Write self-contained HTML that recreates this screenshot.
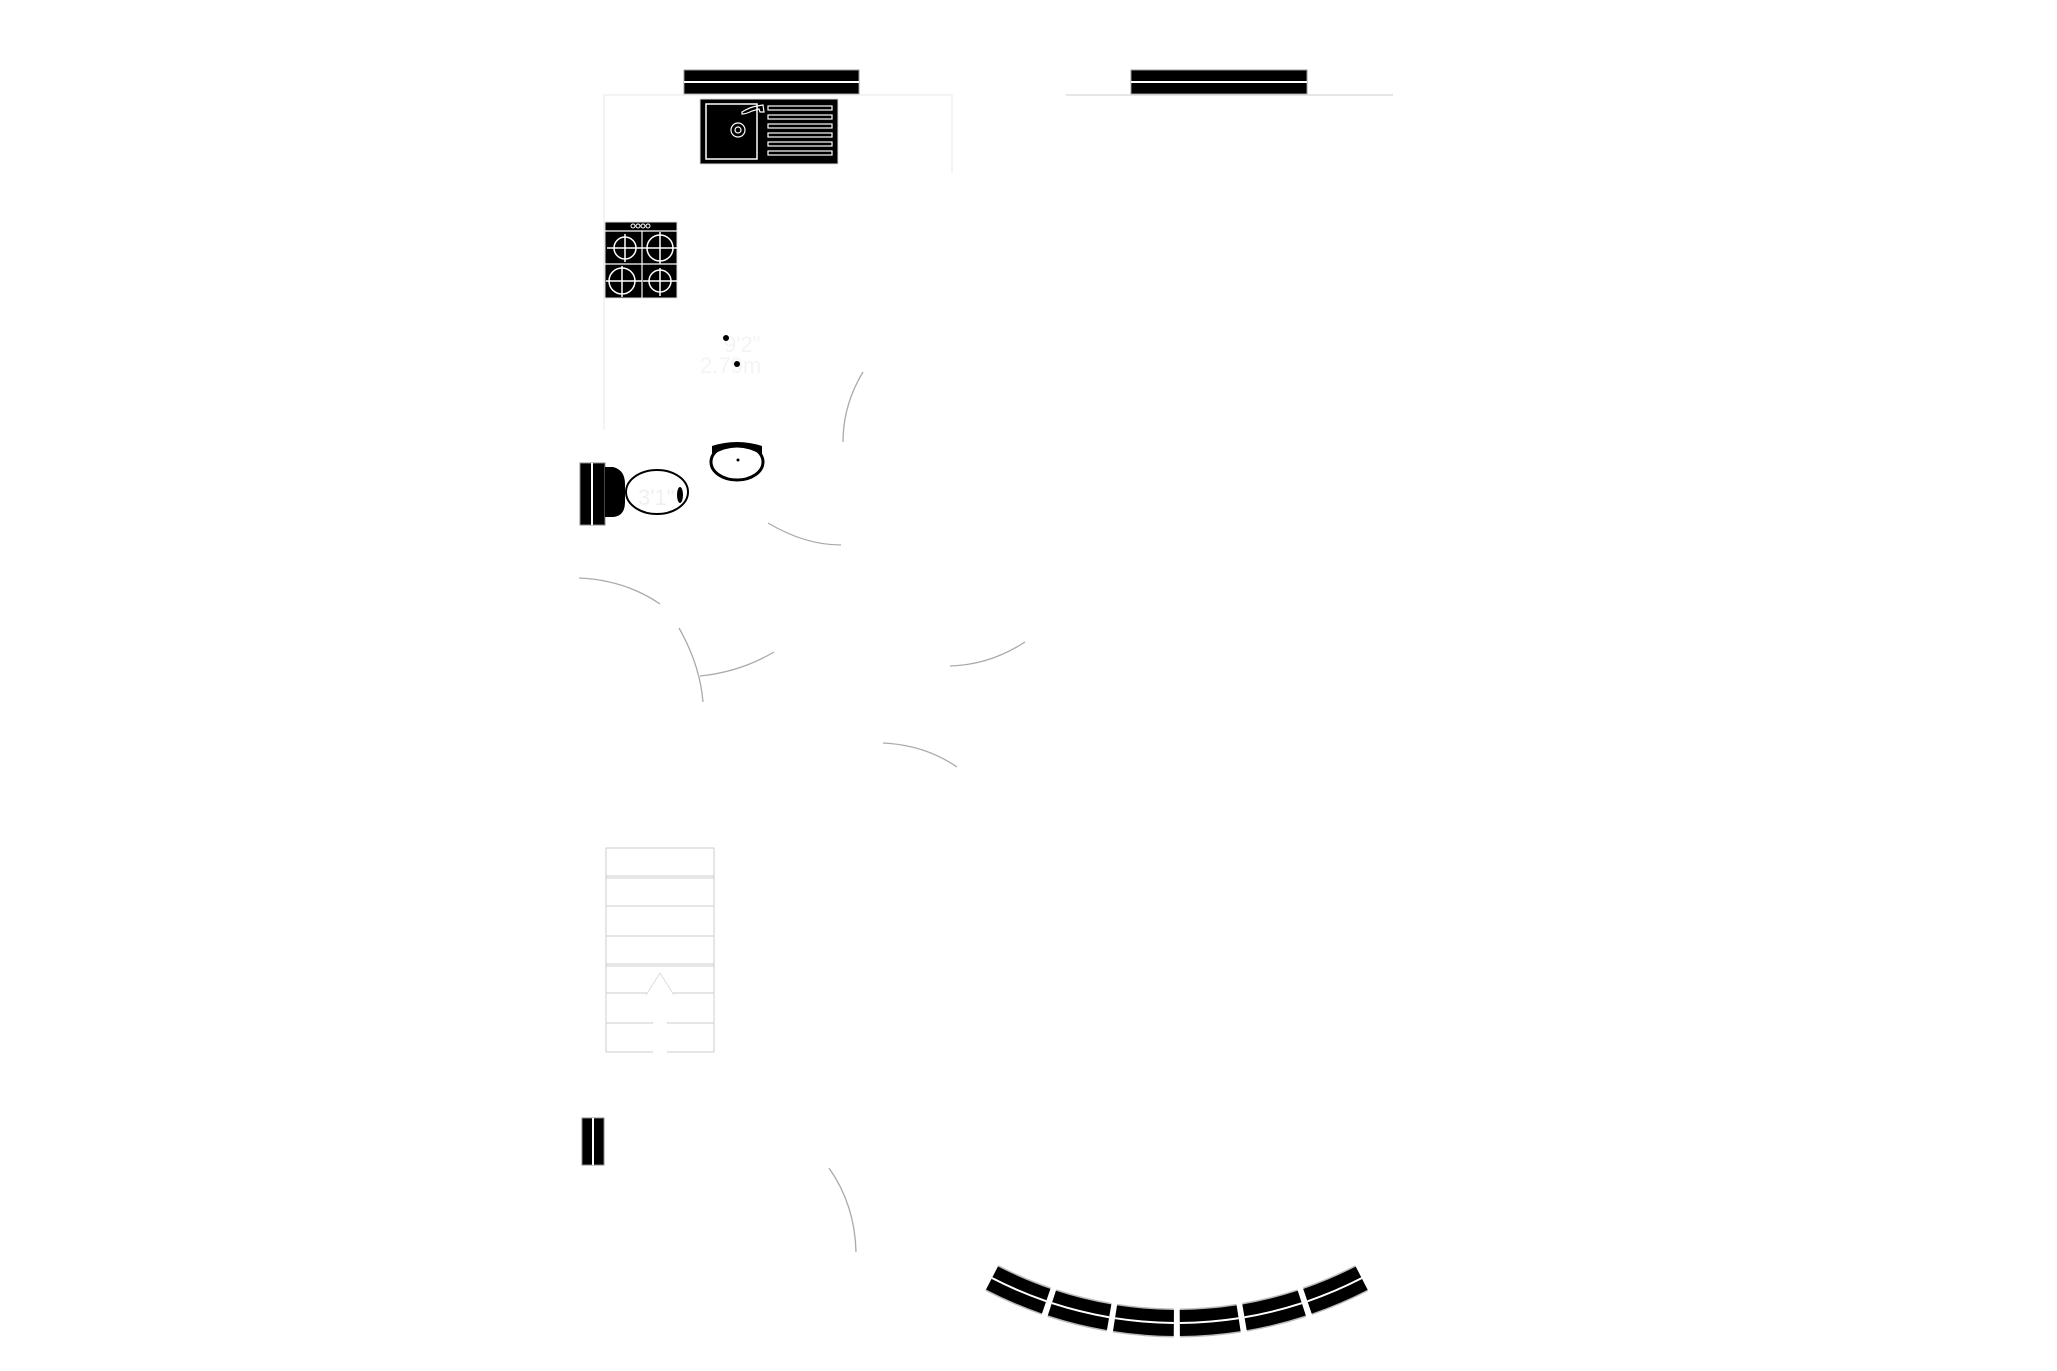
<!DOCTYPE html>
<html><head><meta charset="utf-8"><style>
html,body{margin:0;padding:0;background:#fff;}
svg{display:block;}
</style></head><body>
<svg width="2057" height="1371" viewBox="0 0 2057 1371" xmlns="http://www.w3.org/2000/svg">
<rect width="2057" height="1371" fill="#fff"/>
<!-- top wall bars -->
<rect x="684" y="70" width="175" height="24" fill="#000" stroke="#999" stroke-width="1"/>
<line x1="684" y1="82" x2="859" y2="82" stroke="#fff" stroke-width="2"/>
<rect x="1131" y="70" width="176" height="24" fill="#000" stroke="#999" stroke-width="1"/>
<line x1="1131" y1="82" x2="1307" y2="82" stroke="#fff" stroke-width="2"/>
<line x1="1066" y1="95" x2="1393" y2="95" stroke="#ddd" stroke-width="1.5"/>
<!-- kitchen outline -->
<polyline points="604,430 604,95 952,95 952,173" fill="none" stroke="#f0f0f0" stroke-width="1.5"/>
<!-- sink -->
<rect x="700" y="99" width="138" height="65" fill="#000" stroke="#ddd" stroke-width="1"/>
<rect x="706" y="104" width="51" height="55" fill="none" stroke="#fff" stroke-width="1.5"/>
<g fill="none" stroke="#fff" stroke-width="1.2">
<rect x="768" y="106" width="64" height="4"/>
<rect x="768" y="115" width="64" height="4"/>
<rect x="768" y="124" width="64" height="4"/>
<rect x="768" y="133" width="64" height="4"/>
<rect x="768" y="142" width="64" height="4"/>
<rect x="768" y="151" width="64" height="4"/>
<circle cx="738" cy="130" r="7"/><circle cx="738" cy="130" r="3"/>
<path d="M742 112 Q750 107 757 106 L763 105 L764 112 L760 112 L759 109 L752 111 Q746 114 742 114 Z"/>
</g>
<!-- hob -->
<rect x="605" y="222" width="72" height="76" fill="#000" stroke="#ddd" stroke-width="1"/>
<line x1="605" y1="231" x2="677" y2="231" stroke="#fff" stroke-width="1.2"/>
<line x1="642" y1="231" x2="642" y2="298" stroke="#fff" stroke-width="1.2"/>
<line x1="605" y1="264" x2="677" y2="264" stroke="#fff" stroke-width="1.2"/>
<g fill="none" stroke="#fff" stroke-width="1">
<circle cx="633" cy="226" r="2"/><circle cx="638" cy="226" r="2"/><circle cx="643" cy="226" r="2"/><circle cx="648" cy="226" r="2"/>
</g>
<g fill="none" stroke="#fff" stroke-width="1.5">
<circle cx="625" cy="248" r="11"/><circle cx="660" cy="248" r="13"/>
<circle cx="622" cy="281" r="13"/><circle cx="660" cy="281" r="11"/>
<path d="M607 248h36M625 234v28M643 248h34M660 232v32M606 281h36M622 266v31M643 281h34M660 268v28"/>
</g>
<!-- dimension text -->
<text x="724" y="352" font-family="Liberation Sans, sans-serif" font-size="22" fill="#f4f4f4">9'2"</text>
<text x="700" y="373" font-family="Liberation Sans, sans-serif" font-size="22" fill="#f4f4f4">2.79m</text>
<circle cx="726" cy="338" r="3" fill="#000"/>
<circle cx="737" cy="364" r="3" fill="#000"/>
<!-- arcs (door swings) -->
<g fill="none" stroke="#aaa" stroke-width="1.3">
<path d="M863 372 Q843 405 843 442"/>
<path d="M768 523 Q805 545 841 545"/>
<path d="M579 578 Q625 580 660 604"/>
<path d="M679 628 Q700 665 703 702"/>
<path d="M700 676 Q740 672 774 652"/>
<path d="M950 666 Q990 665 1025 642"/>
<path d="M883 743 Q925 745 957 767"/>
<path d="M829 1168 Q855 1205 856 1252"/>
</g>
<!-- toilet -->
<rect x="580" y="463" width="25" height="62" fill="#000" stroke="#888" stroke-width="1"/>
<line x1="592" y1="463" x2="592" y2="525" stroke="#fff" stroke-width="2"/>
<path d="M605 467 L613 467 Q625 470 625 484 L625 502 Q625 516 613 517 L605 517 Z" fill="#000"/>
<ellipse cx="657" cy="492" rx="31" ry="22" fill="#fff" stroke="#000" stroke-width="2"/>
<ellipse cx="680" cy="495" rx="3" ry="8" fill="#000"/>
<text x="638" y="505" font-family="Liberation Sans, sans-serif" font-size="22" fill="#f0f0f0">3'1"</text>
<!-- basin -->
<ellipse cx="737" cy="462" rx="26" ry="18" fill="#fff" stroke="#000" stroke-width="3"/>
<path d="M712 455 Q737 440 762 455 L762 446 Q737 438 712 446Z" fill="#000"/>
<circle cx="738" cy="460" r="1.5" fill="#000"/>
<!-- stairs -->
<g fill="none" stroke="#ccc" stroke-width="1">
<rect x="606" y="848" width="108" height="204"/>
<path d="M606 876h108M606 878h108M606 906h108M606 936h108M606 964h108M606 966h108M606 993h108M606 1023h108"/>
</g>
<rect x="653" y="994" width="14" height="59" fill="#fff"/>
<path d="M646 995 L660 973 L674 995" fill="#fff" stroke="#ddd" stroke-width="1"/>
<!-- small bar -->
<rect x="582" y="1118" width="22" height="47" fill="#000" stroke="#888" stroke-width="1"/>
<line x1="593" y1="1118" x2="593" y2="1165" stroke="#fff" stroke-width="2"/>
<!-- curved wall -->
<path d="M992 1278 A403 403 0 0 0 1362 1278" fill="none" stroke="#bbb" stroke-width="29" stroke-dasharray="59 6"/>
<path d="M992 1278 A403 403 0 0 0 1362 1278" fill="none" stroke="#000" stroke-width="26" stroke-dasharray="59 6"/>
<path d="M992 1278 A403 403 0 0 0 1362 1278" fill="none" stroke="#fff" stroke-width="2" stroke-dasharray="59 6"/>
</svg>
</body></html>
